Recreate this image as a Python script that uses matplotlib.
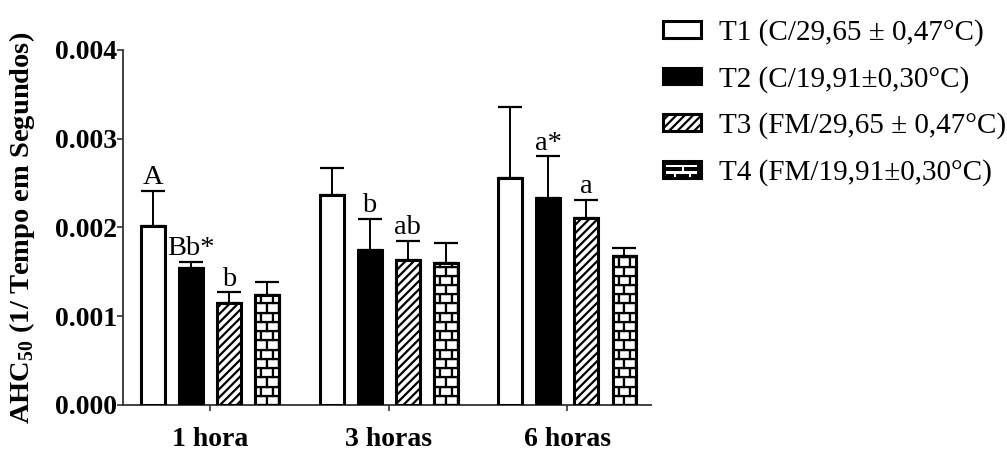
import matplotlib
matplotlib.use("Agg")
import matplotlib.pyplot as plt
import numpy as np
from matplotlib.patches import Rectangle
from matplotlib.legend_handler import HandlerPatch
from matplotlib.ticker import FormatStrFormatter

plt.rcParams['font.family'] = 'Liberation Serif'
plt.rcParams['mathtext.fontset'] = 'custom'
plt.rcParams['mathtext.rm'] = 'Liberation Serif'
plt.rcParams['mathtext.bf'] = 'Liberation Serif:bold'
plt.rcParams['hatch.linewidth'] = 1.6

# Data
groups = ['1 hora', '3 horas', '6 horas']
labels = ['T1 (C/29,65 ± 0,47°C)', 'T2 (C/19,91±0,30°C)',
          'T3 (FM/29,65 ± 0,47°C)', 'T4 (FM/19,91±0,30°C)']

t1_mean = [0.00202, 0.00237, 0.00256]
t2_mean = [0.00154, 0.00175, 0.00233]
t3_mean = [0.00115, 0.00163, 0.00211]
t4_mean = [0.00124, 0.00160, 0.00168]

t1_err = [0.00039, 0.00030, 0.00080]
t2_err = [0.00007, 0.00035, 0.00047]
t3_err = [0.00012, 0.00022, 0.00020]
t4_err = [0.00015, 0.00022, 0.00009]

# significance letters above each bar ('' = none)
t1_sig = ['A', '', '']
t2_sig = ['Bb*', 'b', 'a*']
t3_sig = ['b', 'ab', 'a']
t4_sig = ['', '', '']

means = [t1_mean, t2_mean, t3_mean, t4_mean]
errs = [t1_err, t2_err, t3_err, t4_err]
sigs = [t1_sig, t2_sig, t3_sig, t4_sig]

EDGE_LW = 2.2
BAR_W = 0.134
STEP = 0.213


def add_bricks(ax, bar, row_h=0.000104, z=4):
    """Fill a black bar with a white brick pattern."""
    x0, w, h = bar.get_x(), bar.get_width(), bar.get_height()
    xc = x0 + w / 2
    bw = w * 0.5
    n_rows = int(np.ceil(h / row_h))
    for i in range(n_rows):
        y = i * row_h
        start = xc - bw if i % 2 == 0 else xc - bw * 1.5
        for k in range(4):
            r = Rectangle((start + k * bw, y), bw, row_h, facecolor='white',
                          edgecolor='black', linewidth=1.6, zorder=z)
            ax.add_patch(r)
            r.set_clip_path(bar)
    ax.add_patch(Rectangle((x0, 0), w, h, facecolor='none', edgecolor='black',
                           linewidth=EDGE_LW, zorder=z + 1))


class BrickHandler(HandlerPatch):
    def create_artists(self, legend, orig_handle, xdescent, ydescent,
                       width, height, fontsize, trans):
        x0, y0 = -xdescent, -ydescent
        arts = [Rectangle((x0, y0), width, height, facecolor='black',
                          edgecolor='black', linewidth=EDGE_LW, transform=trans)]
        # two thin white courses with vertical joints
        for yy in (0.25, 0.62):
            arts.append(Rectangle((x0 + 0.08 * width, y0 + yy * height), 0.84 * width,
                                  0.14 * height, facecolor='white', edgecolor='none',
                                  transform=trans))
        for xx, yy in ((0.3, 0.25), (0.7, 0.25), (0.5, 0.62)):
            arts.append(Rectangle((x0 + xx * width, y0 + yy * height - 0.2 * height),
                                  0.06 * width, 0.3 * height, facecolor='white',
                                  edgecolor='none', transform=trans))
        return arts


fig = plt.figure(figsize=(10.07, 4.5), dpi=100)
ax = fig.add_axes([0.1221, 0.1, 0.5244, 0.7889])

x = np.arange(len(groups))
styles = [dict(facecolor='white', hatch=None),
          dict(facecolor='black', hatch=None),
          dict(facecolor='white', hatch='////'),
          dict(facecolor='black', hatch=None)]

for i, (m, e, s, st) in enumerate(zip(means, errs, sigs, styles)):
    xi = x + (i - 1.5) * STEP
    bars = ax.bar(xi, m, BAR_W, edgecolor='black', linewidth=EDGE_LW,
                  zorder=3, label=labels[i], **st)
    ax.errorbar(xi, m, yerr=[np.zeros(len(m)), e], fmt='none', ecolor='black',
                elinewidth=1.4, capsize=8.5, capthick=1.6, zorder=2)
    if i == 3:
        for b in bars:
            add_bricks(ax, b)
    for xv, mv, ev, txt in zip(xi, m, e, s):
        if txt:
            ax.annotate(txt, (xv, mv + ev), xytext=(0, 0.5), textcoords='offset points',
                        ha='center', va='bottom', fontsize=20.5)

ax.set_ylim(0, 0.004)
ax.set_xlim(-0.487, 2.468)
ax.set_yticks([0, 0.001, 0.002, 0.003, 0.004])
ax.yaxis.set_major_formatter(FormatStrFormatter('%.3f'))
ax.set_xticks(x)
ax.set_xticklabels(groups)
for lab in ax.get_xticklabels() + ax.get_yticklabels():
    lab.set_fontweight('bold')
    lab.set_fontsize(20)
ax.tick_params(axis='both', direction='out', length=4.5, width=1.2, color='#333333')
ax.tick_params(axis='x', pad=11)
ax.tick_params(axis='y', pad=0)
for side in ['top', 'right']:
    ax.spines[side].set_visible(False)
for side in ['left', 'bottom']:
    ax.spines[side].set_linewidth(1.3)
    ax.spines[side].set_color('#333333')

ax.set_ylabel(r'AHC$_{\mathbf{50}}$ (1/ Tempo em Segundos)', fontsize=20.5, fontweight='bold')
ax.yaxis.set_label_coords(-0.163, 0.5)

leg_handles = [Rectangle((0, 0), 1, 1, facecolor='white', edgecolor='black', linewidth=EDGE_LW),
               Rectangle((0, 0), 1, 1, facecolor='black', edgecolor='black', linewidth=EDGE_LW),
               Rectangle((0, 0), 1, 1, facecolor='white', edgecolor='black', linewidth=EDGE_LW,
                         hatch='////'),
               Rectangle((0, 0), 1, 1, facecolor='black', edgecolor='black', linewidth=EDGE_LW)]
fig.legend(leg_handles, labels, loc='upper left', bbox_to_anchor=(0.658, 0.958),
           frameon=False, fontsize=21, borderpad=0, borderaxespad=0, handlelength=1.3,
           handleheight=0.51, handletextpad=0.62, labelspacing=0.68,
           handler_map={leg_handles[3]: BrickHandler()})

fig.savefig('out.png', dpi=100)
